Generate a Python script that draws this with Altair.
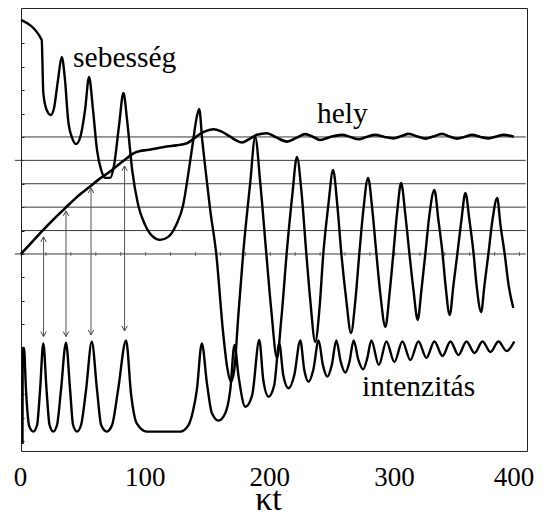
import altair as alt
import pandas as pd

# ---- data (x = kappa*t, y in axis units) ----
vel_x = [0, 16.6, 17.9, 20.6, 23.9, 26.5, 29.7, 32.7, 35.3, 37.8, 41.0, 44.2, 47.4, 51.4, 54.6,
         57.8, 61.0, 64.3, 67.5, 71.5, 74.7, 78.7, 82.2, 85.1, 89.2, 94.0, 99.6, 105.2, 111.6,
         118.1, 124.5, 130.1, 134.1, 138.2, 140.6, 143.0, 145.4, 147.8, 151.8, 156.6, 162.2,
         165.5, 168.4, 171.1, 174.3, 178.3, 183.9, 187.9, 192.0, 196.8, 200.8, 205.4, 208.8,
         213.4, 217.7, 221.4, 224.9, 228.9, 232.1, 236.1, 239.4, 242.6, 246.6, 250.4, 253.8,
         257.0, 261.0, 264.8, 268.3, 271.5, 274.7, 278.5, 281.9, 285.1, 288.4, 292.4, 295.6,
         298.8, 302.0, 305.0, 308.4, 311.6, 314.9, 318.3, 321.3, 324.5, 327.7, 331.7, 334.9,
         338.2, 340.6, 344.0, 347.0, 350.2, 353.4, 356.6, 359.8, 363.1, 365.5, 369.2, 371.9,
         375.1, 378.3, 382.1, 384.7, 388.0, 391.2, 395.0]
vel_y = [10.0, 9.15, 6.88, 6.15, 5.94, 6.24, 7.44, 8.42, 7.44, 5.73, 4.96, 4.70, 4.96, 6.15, 7.56,
         6.15, 4.44, 3.59, 3.25, 3.25, 3.80, 5.51, 6.88, 5.73, 3.59, 2.09, 1.24, 0.77, 0.60,
         0.73, 1.24, 2.09, 3.38, 4.87, 5.73, 6.20, 4.87, 3.72, 1.88, 0.04, -3.38,
         -4.87, -5.46, -4.96, -2.69, 0.04, 3.03, 5.00, 3.03, 0.04, -2.39, -4.44, -2.82,
         0.17, 2.52, 4.15, 2.74, 0.04, -1.97, -3.76, -2.39, 0.04, 2.09, 3.59, 2.09,
         0.04, -1.97, -3.38, -1.97, 0.04, 1.88, 3.25, 1.88, 0.04, -1.75, -3.12, -1.75,
         0.04, 1.88, 3.03, 1.67, 0.04, -1.54, -2.82, -1.54, 0.04, 1.67, 2.74, 1.45,
         0.04, -1.32, -2.61, -1.32, 0.04, 1.45, 2.61, 1.45, 0.04, -1.32, -2.48, -1.32,
         0.04, 1.45, 2.39, 1.24, 0.04, -1.32, -2.31]

pos_x = [0, 8.8, 17.9, 26.5, 35.3, 45.0, 55.4, 63.5, 71.5, 77.9, 84.9, 90.2, 95.6, 100.9, 108.4,
         117.0, 124.5, 133.1, 138.2, 143.8, 148.6, 154.5, 160.6, 167.9, 172.7, 177.3, 183.1,
         189.3, 197.3, 204.8, 213.4, 220.9, 228.1, 234.5, 240.2, 248.2, 257.6, 264.3, 270.9,
         277.1, 284.3, 291.6, 299.0, 305.2, 311.1, 318.1, 324.5, 330.9, 337.9, 343.8, 350.0,
         355.8, 362.0, 368.7, 375.3, 381.5, 387.4, 395.4]
pos_y = [0, 0.51, 1.03, 1.50, 1.95, 2.44, 2.88, 3.23, 3.52, 3.80, 4.09, 4.30, 4.40, 4.44, 4.51,
         4.59, 4.64, 4.73, 4.91, 5.13, 5.26, 5.33, 5.24, 5.01, 4.85, 4.76, 4.91,
         5.09, 5.16, 4.98, 4.80, 4.96, 5.12, 5.00, 4.87, 5.00, 5.09, 5.00, 4.90,
         5.00, 5.09, 5.00, 4.94, 5.04, 5.13, 5.02, 4.93, 5.02, 5.13, 5.02, 4.93,
         5.00, 5.09, 5.00, 4.94, 5.02, 5.09, 5.01]

int_x = [1.2, 1.4, 2.4, 4.0, 6.7, 9.9, 12.9, 15.3, 17.9, 20.5, 22.9, 25.9, 28.9, 32.1, 36.1,
         39.4, 41.8, 45.0, 48.2, 52.2, 56.8, 61.0, 64.3, 68.8, 73.1, 77.9, 84.3, 88.4, 92.9,
         101.0, 127.7, 134.4, 138.2, 141.1, 145.1, 149.2, 153.2, 158.5, 163.9, 167.9, 171.3,
         174.6, 180.0, 185.5, 191.2, 194.4, 198.6, 203.2, 207.2, 210.4, 214.7, 219.3, 224.1,
         227.3, 230.8, 234.5, 238.8, 242.2, 245.8, 249.4, 253.0, 256.6, 260.2, 263.5, 266.9,
         270.7, 274.5, 277.9, 281.1, 287.1, 293.2, 299.6, 306.0, 312.4, 318.9, 325.3, 331.7,
         338.2, 344.6, 351.0, 357.4, 363.9, 370.3, 376.7, 383.1, 389.6, 395.8]
int_y = [-8.12, -4.02, -4.02, -5.81, -7.38, -7.59, -7.31, -5.81, -3.82, -5.81, -7.31, -7.59, -7.31,
         -5.81, -3.79, -5.81, -7.31, -7.59, -7.31, -5.81, -3.75, -5.81, -7.31, -7.59, -7.31,
         -5.81, -3.70, -6.03, -7.24, -7.59, -7.59, -7.31, -6.67, -5.81, -3.82, -5.53, -6.81,
         -7.12, -6.81, -5.81, -3.89, -5.24, -6.53, -6.03, -3.68, -5.38, -6.10, -5.60, -3.82,
         -5.17, -5.74, -5.17, -3.70, -4.96, -5.46, -4.96, -3.70, -4.74, -5.24, -4.74, -3.70,
         -4.62, -5.07, -4.62, -3.70, -4.53, -4.93, -4.44, -3.70, -4.74, -3.74, -4.62, -3.74,
         -4.53, -3.74, -4.44, -3.74, -4.36, -3.74, -4.32, -3.74, -4.23, -3.74, -4.19, -3.74,
         -4.15, -3.74]

arrow_x = [18.1, 36.1, 56.2, 83.1]
arrow_top = [0.73, 1.84, 2.82, 3.76]
arrow_bottom = [-3.53, -3.53, -3.46, -3.29]

grid_levels = [0, 1, 2, 3, 4, 5]
long_levels = [0, 4]
x_tick_values = [0, 100, 200, 300, 400]
mid_tick_values = [0, 20, 40, 60, 80, 100, 120, 140, 160, 180, 200, 220, 240, 260, 280, 300,
                   320, 340, 360, 380, 400]
left_tick_values = [-8, -7, -6, -5, -4, -3, -2, -1, 0, 1, 2, 3, 4, 5, 6, 7, 8, 9, 10]

label_text = ["sebesség", "hely", "intenzitás"]
label_x = [41.8, 237.5, 273.7]
label_y = [8.01, 5.59, -6.07]
axis_title = "κt"

# ---- scales ----
XS = alt.Scale(domain=[0, 406], nice=False, zero=False)
YS = alt.Scale(domain=[-8.42, 10.51], nice=False, zero=False)
FONT = "Liberation Serif"
LINE_COLOR = "#3a3a3a"

grid_df = pd.DataFrame({
    "x": [(-5 if lv in long_levels else 0) for lv in grid_levels],
    "x2": [405] * len(grid_levels),
    "y": grid_levels,
})

X_AXIS = alt.Axis(values=x_tick_values, ticks=False, tickSize=0, domain=False, grid=False,
                  labelPadding=13, labelFlush=False,
                  labelOffset={"condition": {"test": "datum.value >= 400", "value": -6}, "value": -1},
                  labelOverlap=False, labelBound=False,
                  title=axis_title, titleBaseline="alphabetic", titleAlign="center",
                  titleX=247, titleY=58)
Y_AXIS = alt.Axis(values=left_tick_values, labels=False, tickSize=3, offset=-3, domain=False,
                  grid=False, title=None)


def X(field):
    return alt.X(field, scale=XS, axis=X_AXIS)


def Y(field):
    return alt.Y(field, scale=YS, axis=Y_AXIS)


grid = alt.Chart(grid_df).mark_rule(color=LINE_COLOR, strokeWidth=1).encode(
    x=X("x:Q"), x2="x2:Q", y=Y("y:Q"))

mid_ticks = alt.Chart(pd.DataFrame({"x": mid_tick_values, "y": [0] * len(mid_tick_values)})).mark_tick(
    orient="vertical", size=4, thickness=1, color=LINE_COLOR
).encode(x=X("x:Q"), y=Y("y:Q"))

arrow_df = pd.DataFrame({"x": arrow_x, "top": arrow_top, "bottom": arrow_bottom})
shafts = alt.Chart(arrow_df).mark_rule(color="#555", strokeWidth=1).encode(
    x=X("x:Q"), y=Y("bottom:Q"), y2="top:Q")
heads_up = alt.Chart(arrow_df).mark_point(
    shape="M -0.55 1 L 0 0 L 0.55 1", filled=False, size=100, strokeWidth=1, color="#444", opacity=1
).encode(x=X("x:Q"), y=Y("top:Q"))
heads_down = alt.Chart(arrow_df).mark_point(
    shape="M -0.55 -1 L 0 0 L 0.55 -1", filled=False, size=100, strokeWidth=1, color="#444", opacity=1
).encode(x=X("x:Q"), y=Y("bottom:Q"))


def curve(xs, ys, width):
    return alt.Chart(pd.DataFrame({"x": xs, "y": ys})).mark_line(
        color="black", strokeWidth=width, interpolate="monotone", strokeJoin="round"
    ).encode(x=X("x:Q"), y=Y("y:Q"))


vel = curve(vel_x, vel_y, 2.4)
pos = curve(pos_x, pos_y, 2.6)
inten = curve(int_x, int_y, 2.4)

labels = alt.Chart(pd.DataFrame({"t": label_text, "x": label_x, "y": label_y})).mark_text(
    align="left", baseline="alphabetic", font=FONT, fontSize=29.5, color="black"
).encode(x=X("x:Q"), y=Y("y:Q"), text="t:N")

chart = alt.layer(grid, mid_ticks, shafts, heads_up, heads_down, pos, vel, inten, labels).properties(
    width=506, height=443,
    autosize=alt.AutoSizeParams(type="none"),
    padding={"left": 13, "top": 0, "right": 8, "bottom": 66},
    background="white",
).configure_view(stroke="#222", strokeWidth=1).configure_axis(
    labelFont=FONT, labelFontSize=27, labelColor="black",
    titleFont=FONT, titleFontSize=34, titleFontWeight="normal", titleColor="black",
    tickColor="#222", tickWidth=1,
)

chart.save("out.html", embed_options={"renderer": "svg", "actions": False})
